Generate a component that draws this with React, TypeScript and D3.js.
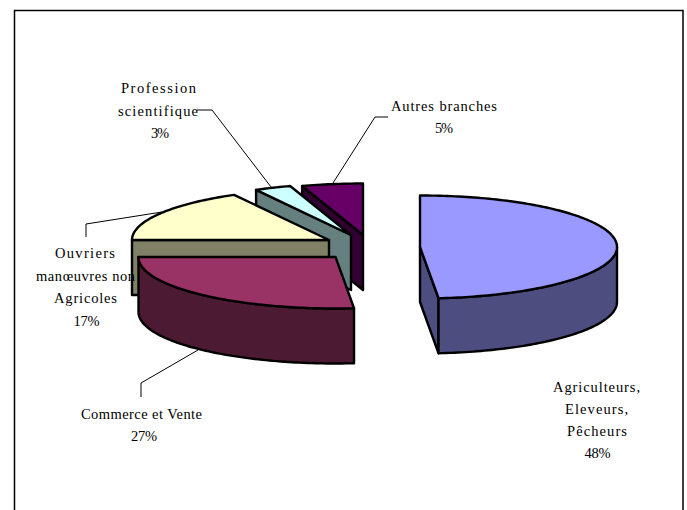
import React from "react";
import * as d3 from "d3";

const categories = ["Agriculteurs, Eleveurs, Pêcheurs", "Commerce et Vente", "Ouvriers manœuvres non Agricoles", "Profession scientifique", "Autres branches"];
const shares = [48.5, 26.5, 17, 3, 5];
const topColors = ["#9999ff", "#993366", "#ffffcc", "#ccffff", "#660066"];
const sideColors = ["#4d4d80", "#4d1a33", "#808066", "#668080", "#330033"];
const explodedCenters: [number, number][] = [[420, 247], [335.5, 257], [329, 240], [351, 235], [363, 235]];
const drawOrder = [4, 3, 2, 1, 0];

const labelLines: { text: string; x: number; y: number; w: number }[] = [
  { text: "Profession", x: 158.5, y: 93, w: 75 },
  { text: "scientifique", x: 158, y: 116, w: 80 },
  { text: "3%", x: 160, y: 138, w: 18 },
  { text: "Autres branches", x: 444, y: 111, w: 106 },
  { text: "5%", x: 444, y: 133, w: 18 },
  { text: "Ouvriers", x: 85, y: 258, w: 60 },
  { text: "manœuvres non", x: 85.5, y: 281, w: 99 },
  { text: "Agricoles", x: 85.5, y: 303, w: 63 },
  { text: "17%", x: 86.5, y: 326, w: 26 },
  { text: "Commerce et Vente", x: 141.5, y: 418.5, w: 121 },
  { text: "27%", x: 144, y: 440.5, w: 26 },
  { text: "Agriculteurs,", x: 596.5, y: 391.5, w: 87 },
  { text: "Eleveurs,", x: 596.5, y: 413.5, w: 63 },
  { text: "Pêcheurs", x: 597, y: 436, w: 60 },
  { text: "48%", x: 597.5, y: 458, w: 26 },
];
const leaders: [number, number][][] = [
  [[197, 110], [212, 110], [271, 187]],
  [[333, 183], [375, 117], [388, 117]],
  [[86, 237], [86, 224], [162, 212]],
  [[198, 350], [141, 383], [141, 397]],
];

const RX = 197;
const RY = 51.5;
const DEPTH = 55;

export default function App() {
  const arcs = d3.pie<number>().sort(null).startAngle(0).endAngle(2 * Math.PI)(shares);
  // d3 angles: 0 at 12 o'clock, clockwise
  const px = (i: number, a: number, dy = 0): [number, number] => [
    explodedCenters[i][0] + RX * Math.sin(a),
    explodedCenters[i][1] - RY * Math.cos(a) + dy,
  ];
  const line = d3.line();
  const arcPts = (i: number, a0: number, a1: number, dy = 0) => {
    const n = Math.max(2, Math.ceil(Math.abs(a1 - a0) / 0.02));
    return d3.range(n + 1).map((k) => px(i, a0 + ((a1 - a0) * k) / n, dy));
  };
  const stroke = { stroke: "#000", strokeWidth: 2.4, strokeLinejoin: "round" as const };

  return (
    <svg width={687} height={510} style={{ position: "absolute", left: 0, top: 0, display: "block" }}>
      <rect width={687} height={510} fill="#fff" />
      <path d="M14.5,510V10.5H683V510" fill="none" stroke="#000" strokeWidth={1.5} />
      {leaders.map((l, i) => (
        <path key={i} d={line(l) ?? ""} fill="none" stroke="#000" strokeWidth={1} />
      ))}
      {drawOrder.map((i) => {
        const { startAngle: a0, endAngle: a1 } = arcs[i];
        const c = explodedCenters[i];
        const faces: React.ReactNode[] = [];
        const addRadial = (a: number, key: string) => {
          const p = px(i, a);
          const q: [number, number] = [c[0], c[1]];
          faces.push(
            <path key={key} d={line([q, p, [p[0], p[1] + DEPTH], [q[0], q[1] + DEPTH]])! + "Z"} fill={sideColors[i]} {...stroke} />
          );
        };
        if (Math.sin(a0) < -0.01 || Math.sin(a0) > 0.999) addRadial(a0, "s");
        if (Math.sin(a1) > 0.01) addRadial(a1, "e");
        const wa0 = Math.max(a0, Math.PI / 2);
        const wa1 = Math.min(a1, (3 * Math.PI) / 2);
        if (wa1 > wa0) {
          const topRim = arcPts(i, wa0, wa1);
          const botRim = arcPts(i, wa1, wa0, DEPTH);
          faces.push(<path key="w" d={line([...topRim, ...botRim])! + "Z"} fill={sideColors[i]} {...stroke} />);
        }
        const top = [[c[0], c[1]] as [number, number], ...arcPts(i, a0, a1)];
        return (
          <g key={categories[i]}>
            {faces}
            <path d={line(top)! + "Z"} fill={topColors[i]} {...stroke} />
          </g>
        );
      })}
      {labelLines.map((l, i) => (
        <text key={i} x={l.x} y={l.y} textAnchor="middle" fontFamily="'Liberation Serif', serif" fontSize={14.5} fill="#000" textLength={l.w} lengthAdjust="spacing">
          {l.text}
        </text>
      ))}
    </svg>
  );
}
